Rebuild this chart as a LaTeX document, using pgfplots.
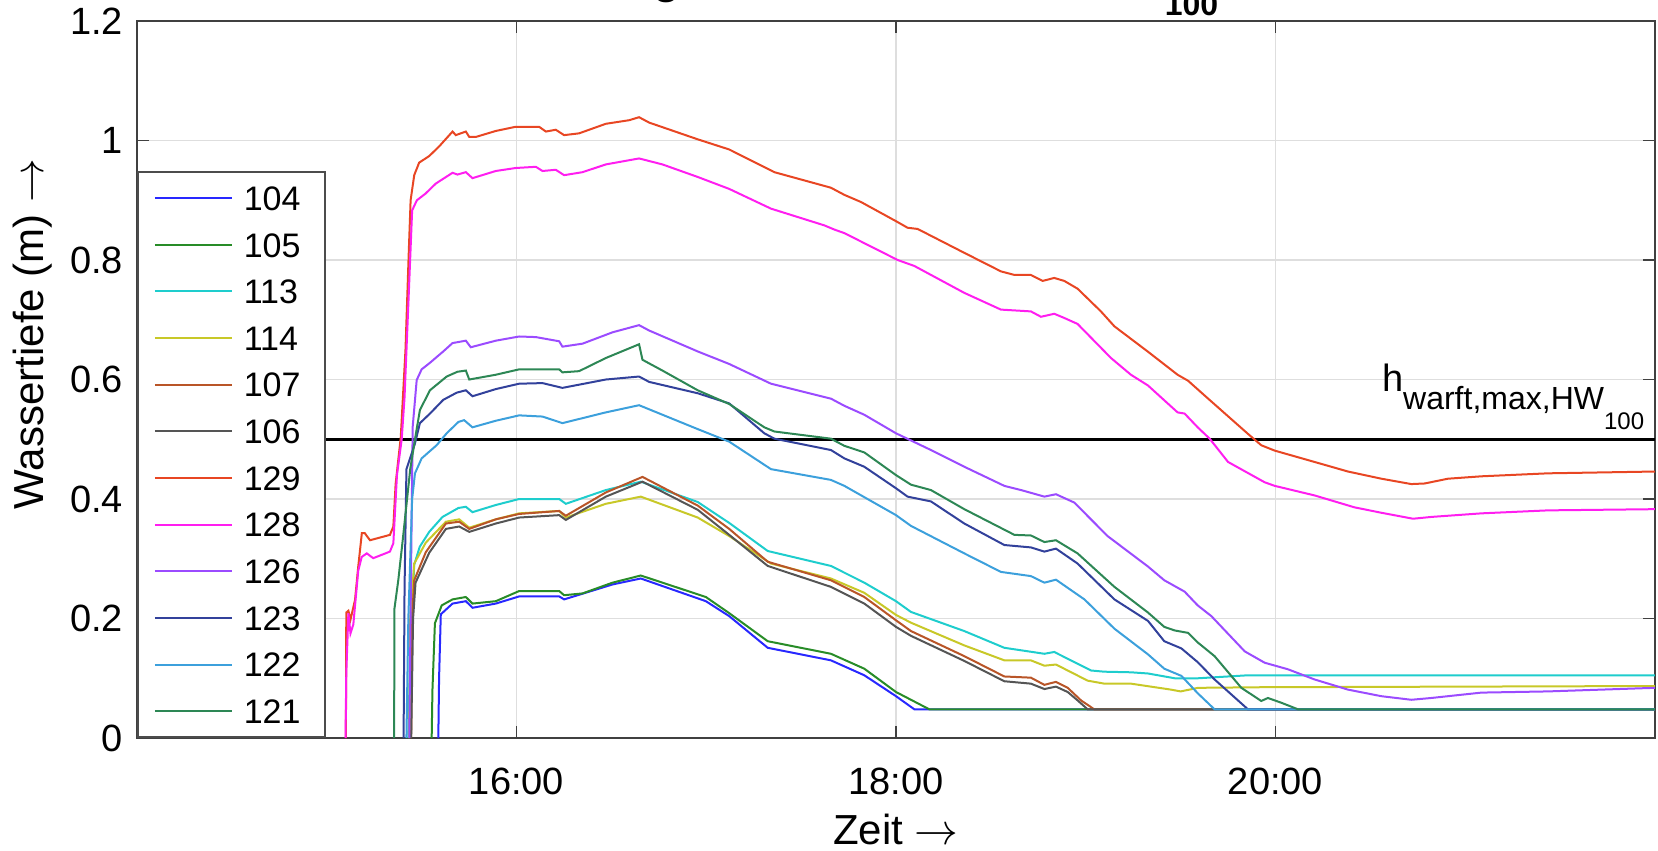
\documentclass[border=0pt]{standalone}
\usepackage{fontspec}
\setmainfont{Liberation Sans}
\usepackage{pgfplots}
\pgfplotsset{compat=1.18}
\definecolor{c104}{RGB}{40,40,255}
\definecolor{c105}{RGB}{40,140,40}
\definecolor{c113}{RGB}{30,205,205}
\definecolor{c114}{RGB}{200,200,40}
\definecolor{c107}{RGB}{185,85,40}
\definecolor{c106}{RGB}{85,85,85}
\definecolor{c129}{RGB}{232,70,35}
\definecolor{c128}{RGB}{255,30,240}
\definecolor{c126}{RGB}{155,75,255}
\definecolor{c123}{RGB}{50,65,155}
\definecolor{c122}{RGB}{60,160,220}
\definecolor{c121}{RGB}{45,135,85}
\begin{document}
\begin{tikzpicture}
\begin{axis}[
  at={(0,0)}, anchor=south west,
  scale only axis, width=379.5pt, height=179.25pt,
  xmin=14, xmax=22, ymin=0, ymax=1.2,
  xtick={16,18,20}, xticklabels={16:00,18:00,20:00},
  ytick={0,0.2,0.4,0.6,0.8,1,1.2}, yticklabels={0,0.2,0.4,0.6,0.8,1,1.2},
  tick align=inside, tick pos=both, major tick length=3pt,
  tick style={color=black!75, line width=0.4pt},
  axis line style={black!75, line width=0.5pt},
  grid=major, major grid style={black!13, line width=0.35pt},
  ticklabel style={font=\fontsize{9.5}{11}\selectfont},
  xticklabel style={yshift=-4pt},
  xlabel={Zeit $\rightarrow$}, ylabel={Wassertiefe (m) $\rightarrow$},
  label style={font=\fontsize{10.5}{12}\selectfont},
  xlabel style={at={(axis description cs:0.5,-0.149)}, anchor=base},
  ylabel style={at={(axis description cs:-0.069,0.5635)}, anchor=center},
  legend cell align=left,
  legend style={at={(0,0)}, anchor=south west, draw=black!70, line width=0.4pt, fill=white,
    font=\fontsize{8.5}{10}\selectfont, inner xsep=4pt, inner ysep=3.45pt,
    row sep=5.56pt, column sep=2.75pt,
    nodes={inner sep=0pt, text height=6.1pt, text depth=0pt, text width=16.25pt, align=left}},
  legend image code/.code={\draw[#1, line width=0.5pt] (0pt,0pt) -- (19.25pt,0pt);},
  every axis plot/.append style={line width=0.5pt, mark=none},
]
\addplot[black, line width=0.85pt, forget plot] coordinates {(14,0.5) (22,0.5)};
% 104
\addplot[c104] coordinates {(15.588,0) (15.592,0.1) (15.601,0.207) (15.663,0.225) (15.733,0.229) (15.768,0.218) (15.891,0.225) (16.014,0.237) (16.225,0.237) (16.251,0.232) (16.506,0.257) (16.655,0.267) (16.998,0.229) (17.121,0.204) (17.324,0.151) (17.657,0.13) (17.833,0.105) (18.0,0.07) (18.097,0.048) (22,0.048)};
% 105
\addplot[c105] coordinates {(15.553,0) (15.557,0.08) (15.57,0.192) (15.606,0.222) (15.663,0.232) (15.733,0.236) (15.768,0.225) (15.891,0.229) (16.014,0.246) (16.225,0.246) (16.251,0.239) (16.348,0.242) (16.506,0.26) (16.655,0.272) (16.998,0.236) (17.121,0.209) (17.324,0.162) (17.657,0.141) (17.833,0.116) (18.0,0.077) (18.097,0.061) (18.176,0.048) (22,0.048)};
% 113
\addplot[c113] coordinates {(15.43,0) (15.44,0.15) (15.461,0.29) (15.49,0.32) (15.54,0.345) (15.61,0.37) (15.694,0.385) (15.733,0.387) (15.768,0.378) (15.891,0.39) (16.014,0.40) (16.225,0.40) (16.26,0.392) (16.471,0.415) (16.655,0.429) (16.955,0.395) (17.121,0.36) (17.324,0.313) (17.657,0.288) (17.833,0.26) (18.0,0.229) (18.079,0.211) (18.36,0.179) (18.571,0.151) (18.782,0.141) (18.834,0.144) (19.028,0.113) (19.098,0.111) (19.238,0.11) (19.328,0.108) (19.469,0.10) (19.592,0.10) (19.855,0.105) (22,0.105)};
% 114
\addplot[c114] coordinates {(15.435,0) (15.44,0.2) (15.461,0.292) (15.522,0.327) (15.628,0.362) (15.698,0.366) (15.751,0.352) (15.891,0.366) (16.014,0.376) (16.225,0.38) (16.26,0.369) (16.471,0.392) (16.655,0.404) (16.955,0.369) (17.121,0.338) (17.341,0.292) (17.657,0.267) (17.833,0.243) (18.0,0.206) (18.079,0.193) (18.36,0.155) (18.571,0.13) (18.711,0.13) (18.782,0.121) (18.843,0.123) (19.01,0.096) (19.098,0.091) (19.238,0.091) (19.449,0.081) (19.5,0.078) (19.592,0.084) (19.925,0.085) (22,0.087)};
% 107
\addplot[c107] coordinates {(15.445,0) (15.45,0.2) (15.461,0.264) (15.522,0.311) (15.628,0.359) (15.698,0.362) (15.751,0.35) (15.891,0.366) (16.014,0.375) (16.225,0.38) (16.26,0.372) (16.471,0.411) (16.664,0.437) (16.955,0.389) (17.121,0.35) (17.324,0.295) (17.657,0.264) (17.833,0.236) (18.0,0.197) (18.079,0.179) (18.36,0.137) (18.571,0.103) (18.711,0.101) (18.782,0.089) (18.843,0.094) (18.905,0.084) (18.975,0.063) (19.045,0.048) (22,0.048)};
% 106
\addplot[c106] coordinates {(15.445,0) (15.455,0.2) (15.468,0.26) (15.54,0.31) (15.628,0.35) (15.698,0.354) (15.751,0.345) (15.891,0.359) (16.014,0.369) (16.225,0.373) (16.26,0.365) (16.471,0.404) (16.664,0.429) (16.955,0.382) (17.121,0.34) (17.324,0.288) (17.657,0.253) (17.833,0.225) (18.0,0.186) (18.079,0.171) (18.36,0.129) (18.571,0.095) (18.711,0.091) (18.782,0.082) (18.843,0.086) (18.905,0.077) (18.957,0.063) (19.01,0.048) (22,0.048)};
% 129
\addplot[c129] coordinates {(15.101,0) (15.103,0.21) (15.114,0.213) (15.125,0.198) (15.149,0.231) (15.166,0.287) (15.185,0.343) (15.2,0.343) (15.228,0.331) (15.333,0.34) (15.351,0.354) (15.363,0.425) (15.39,0.503) (15.415,0.65) (15.433,0.82) (15.442,0.90) (15.461,0.942) (15.487,0.963) (15.54,0.974) (15.592,0.99) (15.663,1.015) (15.68,1.009) (15.733,1.015) (15.751,1.006) (15.786,1.006) (15.891,1.016) (15.996,1.023) (16.119,1.023) (16.155,1.015) (16.207,1.018) (16.251,1.009) (16.33,1.012) (16.471,1.028) (16.594,1.034) (16.646,1.039) (16.699,1.03) (16.955,1.002) (17.121,0.985) (17.359,0.947) (17.657,0.921) (17.728,0.909) (17.816,0.897) (18.0,0.865) (18.061,0.854) (18.114,0.852) (18.36,0.812) (18.553,0.781) (18.624,0.775) (18.711,0.775) (18.773,0.765) (18.834,0.77) (18.887,0.765) (18.957,0.752) (19.08,0.714) (19.151,0.689) (19.326,0.647) (19.484,0.608) (19.539,0.598) (19.645,0.568) (19.855,0.509) (19.925,0.49) (19.996,0.481) (20.206,0.462) (20.382,0.446) (20.558,0.434) (20.716,0.425) (20.786,0.426) (20.909,0.434) (21.085,0.438) (21.436,0.443) (22,0.446)};
% 128
\addplot[c128] coordinates {(15.099,0) (15.103,0.108) (15.114,0.209) (15.125,0.175) (15.14,0.19) (15.166,0.28) (15.184,0.303) (15.211,0.309) (15.245,0.301) (15.333,0.312) (15.351,0.326) (15.37,0.44) (15.395,0.5) (15.41,0.57) (15.433,0.749) (15.45,0.883) (15.475,0.90) (15.52,0.911) (15.575,0.928) (15.663,0.946) (15.689,0.943) (15.733,0.947) (15.768,0.937) (15.891,0.949) (15.996,0.954) (16.102,0.956) (16.137,0.949) (16.207,0.951) (16.251,0.942) (16.348,0.947) (16.471,0.96) (16.646,0.97) (16.769,0.96) (16.955,0.939) (17.121,0.919) (17.341,0.886) (17.622,0.858) (17.675,0.851) (17.728,0.845) (18.009,0.80) (18.097,0.79) (18.36,0.745) (18.553,0.717) (18.711,0.714) (18.764,0.705) (18.834,0.71) (18.887,0.703) (18.957,0.693) (19.133,0.636) (19.238,0.608) (19.328,0.59) (19.484,0.545) (19.521,0.543) (19.59,0.52) (19.653,0.501) (19.75,0.462) (19.943,0.428) (19.996,0.422) (20.206,0.406) (20.417,0.386) (20.558,0.377) (20.725,0.367) (20.821,0.37) (21.085,0.376) (21.436,0.381) (22,0.383)};
% 126
\addplot[c126] coordinates {(15.435,0) (15.445,0.3) (15.453,0.521) (15.474,0.599) (15.5,0.617) (15.544,0.628) (15.614,0.647) (15.663,0.661) (15.733,0.665) (15.759,0.654) (15.891,0.665) (16.014,0.672) (16.102,0.671) (16.225,0.664) (16.242,0.655) (16.348,0.66) (16.506,0.679) (16.646,0.691) (16.699,0.682) (16.955,0.647) (17.121,0.626) (17.341,0.593) (17.657,0.568) (17.728,0.556) (17.833,0.541) (18.0,0.51) (18.184,0.482) (18.36,0.454) (18.571,0.422) (18.659,0.415) (18.782,0.404) (18.843,0.408) (18.94,0.394) (19.115,0.338) (19.328,0.287) (19.414,0.264) (19.521,0.245) (19.59,0.222) (19.662,0.204) (19.838,0.145) (19.943,0.126) (20.066,0.115) (20.206,0.098) (20.382,0.081) (20.558,0.07) (20.716,0.064) (20.821,0.067) (21.085,0.076) (21.436,0.078) (22,0.084)};
% 123
\addplot[c123] coordinates {(15.405,0) (15.41,0.25) (15.42,0.45) (15.465,0.493) (15.491,0.527) (15.544,0.543) (15.614,0.566) (15.685,0.578) (15.733,0.582) (15.768,0.572) (15.891,0.584) (16.014,0.593) (16.137,0.594) (16.242,0.586) (16.471,0.60) (16.646,0.605) (16.699,0.596) (16.955,0.577) (17.121,0.56) (17.306,0.51) (17.359,0.501) (17.657,0.482) (17.728,0.468) (17.833,0.454) (18.0,0.418) (18.061,0.404) (18.184,0.396) (18.36,0.359) (18.571,0.323) (18.711,0.319) (18.782,0.312) (18.843,0.317) (18.957,0.292) (19.151,0.232) (19.328,0.196) (19.414,0.162) (19.504,0.15) (19.59,0.127) (19.679,0.098) (19.855,0.048) (22,0.048)};
% 122
\addplot[c122] coordinates {(15.42,0) (15.43,0.2) (15.45,0.40) (15.465,0.443) (15.5,0.468) (15.579,0.49) (15.632,0.51) (15.694,0.529) (15.724,0.532) (15.768,0.52) (15.891,0.531) (16.014,0.54) (16.137,0.538) (16.242,0.527) (16.471,0.545) (16.646,0.557) (16.955,0.517) (17.121,0.496) (17.341,0.45) (17.657,0.432) (17.728,0.422) (18.0,0.373) (18.079,0.355) (18.36,0.309) (18.553,0.278) (18.711,0.271) (18.782,0.26) (18.843,0.265) (18.993,0.232) (19.151,0.183) (19.328,0.14) (19.414,0.116) (19.504,0.104) (19.59,0.075) (19.679,0.048) (22,0.048)};
% 121
\addplot[c121] coordinates {(15.355,0) (15.357,0.217) (15.377,0.264) (15.40,0.33) (15.44,0.45) (15.465,0.50) (15.491,0.549) (15.544,0.582) (15.632,0.605) (15.689,0.613) (15.733,0.615) (15.751,0.60) (15.891,0.608) (16.014,0.617) (16.225,0.617) (16.242,0.612) (16.33,0.614) (16.471,0.636) (16.646,0.659) (16.664,0.633) (16.769,0.615) (16.955,0.582) (17.121,0.559) (17.306,0.52) (17.359,0.513) (17.657,0.501) (17.728,0.489) (17.833,0.478) (18.0,0.44) (18.079,0.424) (18.184,0.415) (18.36,0.383) (18.624,0.34) (18.711,0.339) (18.782,0.328) (18.843,0.331) (18.957,0.309) (19.151,0.253) (19.328,0.21) (19.414,0.186) (19.469,0.18) (19.539,0.176) (19.59,0.16) (19.679,0.137) (19.82,0.084) (19.925,0.062) (19.96,0.067) (20.031,0.059) (20.119,0.048) (22,0.048)};
\legend{104,105,113,114,107,106,129,128,126,123,122,121}
\node[anchor=base east, inner sep=0pt, font=\fontsize{9.5}{11}\selectfont] at (axis cs:21.947,0.58)
  {h\raisebox{-4.6pt}{\fontsize{8}{9}\selectfont warft,max,HW\raisebox{-5pt}{\fontsize{6}{7}\selectfont 100}}};
\end{axis}
\node[anchor=base, inner sep=0pt, font=\bfseries\fontsize{11}{13}\selectfont] at (132.5pt,186.15pt) {g};
\node[anchor=base west, inner sep=0pt, font=\bfseries\fontsize{8}{9}\selectfont] at (256.75pt,180.75pt) {100};
\pgfresetboundingbox
\useasboundingbox (-34.25pt,-28pt) rectangle (380.25pt,184.5pt);
\end{tikzpicture}
\end{document}
